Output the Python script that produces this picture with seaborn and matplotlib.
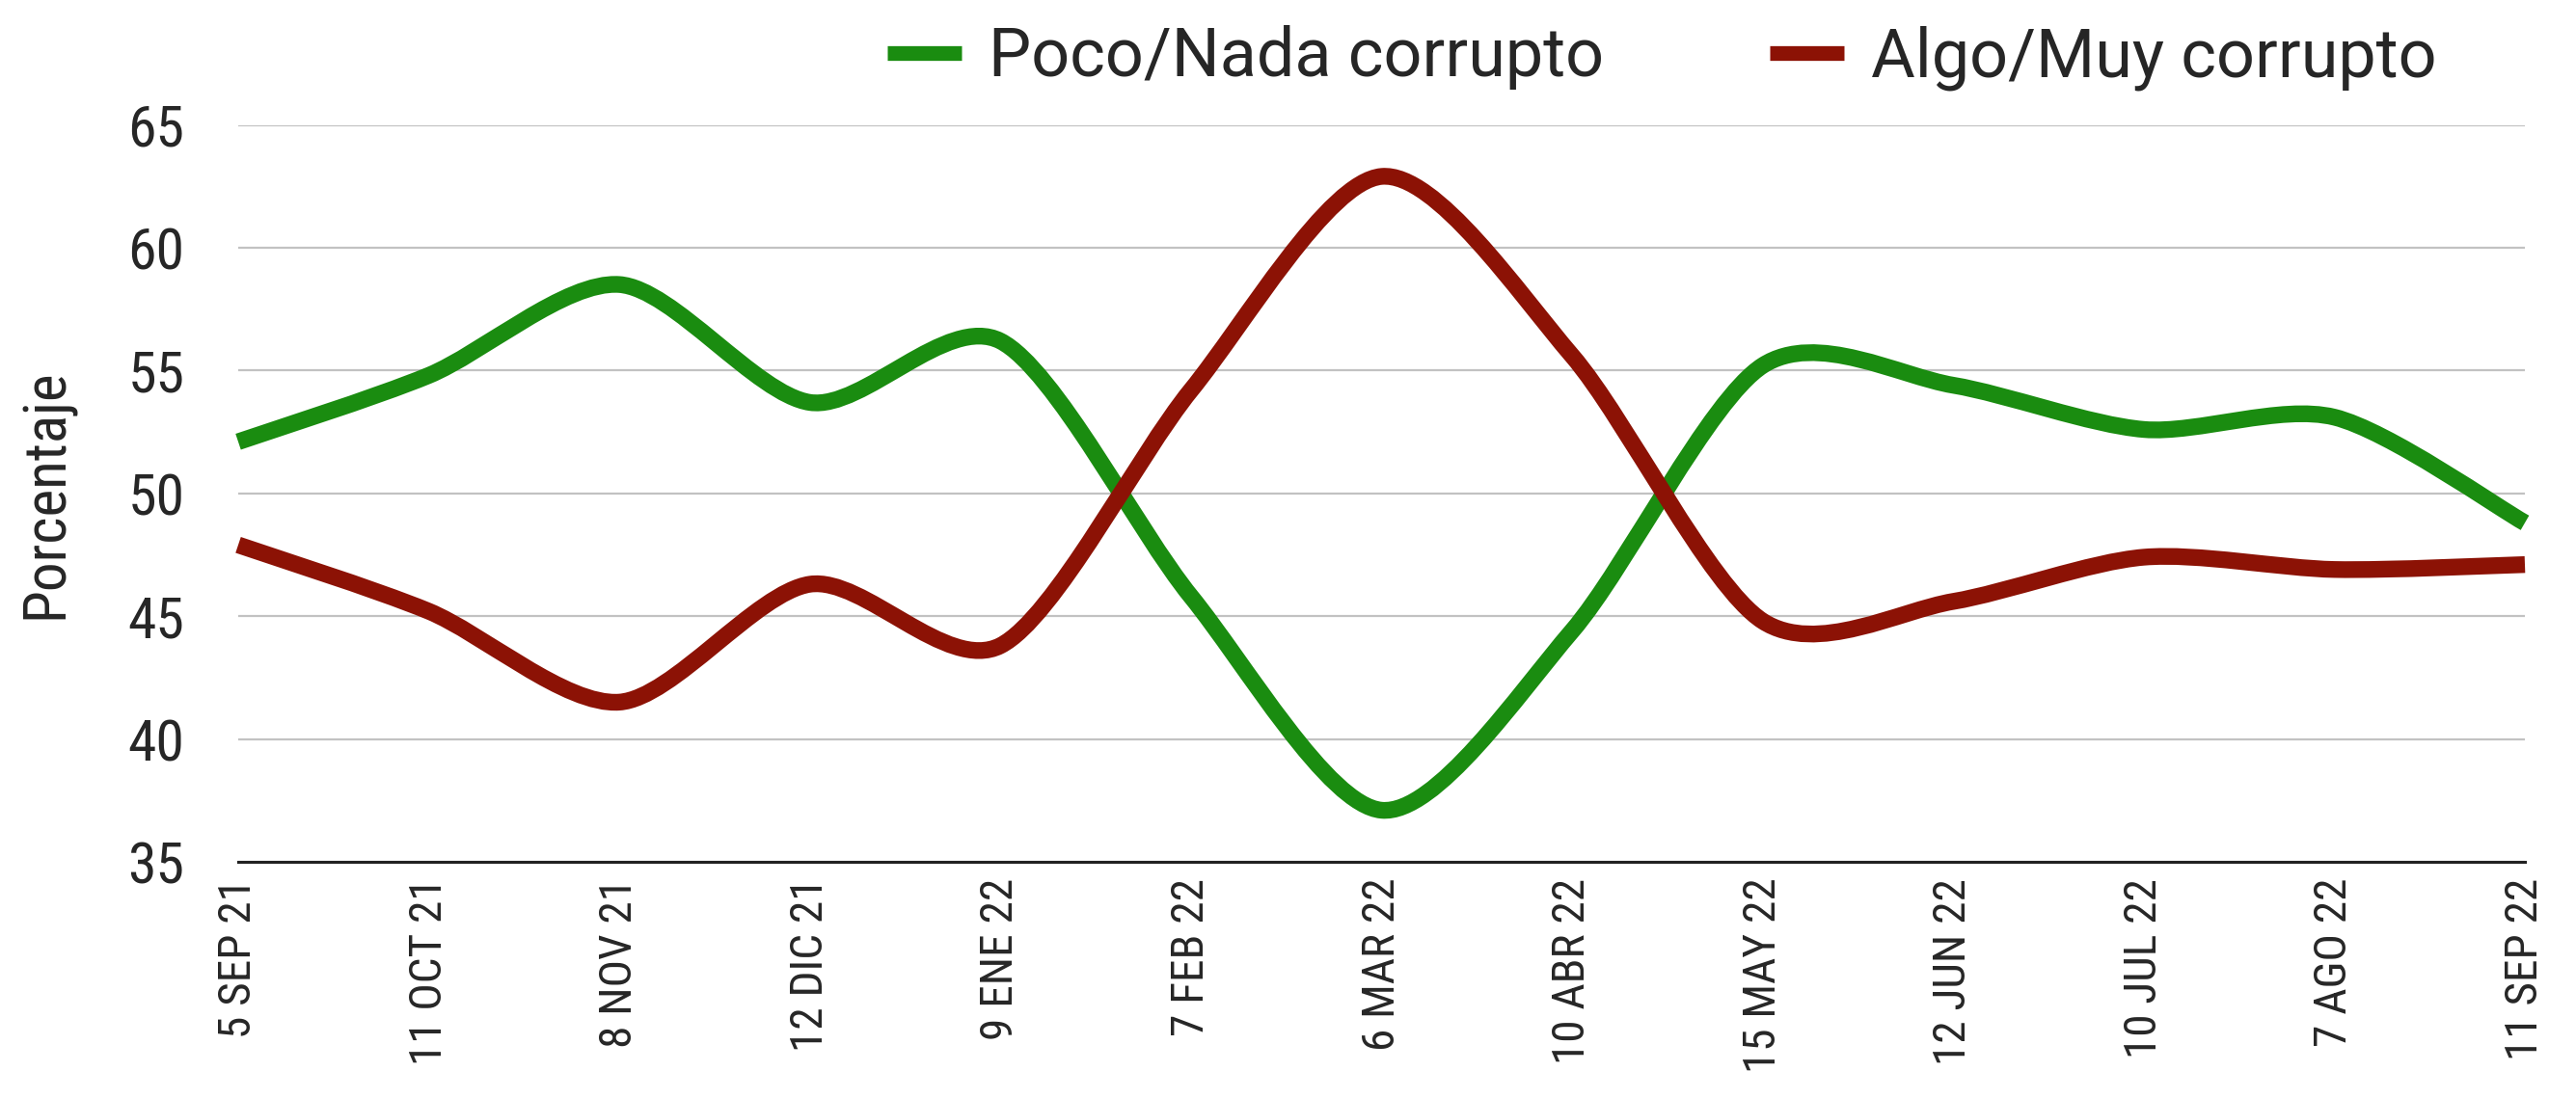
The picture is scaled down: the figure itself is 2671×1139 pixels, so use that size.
import numpy as np
import pandas as pd
import matplotlib
matplotlib.use("Agg")
import matplotlib.pyplot as plt
from matplotlib.path import Path
from matplotlib.patches import PathPatch
from matplotlib.lines import Line2D
import seaborn as sns

fechas = ["5 SEP 21", "11 OCT 21", "8 NOV 21", "12 DIC 21", "9 ENE 22", "7 FEB 22",
          "6 MAR 22", "10 ABR 22", "15 MAY 22", "12 JUN 22", "10 JUL 22", "7 AGO 22",
          "11 SEP 22"]
poco_nada = [52.1, 54.8, 58.5, 53.7, 56.2, 45.8, 37.1, 44.4, 55.2, 54.4, 52.6, 53.1, 48.8]
algo_muy = [47.9, 45.2, 41.5, 46.3, 43.8, 54.2, 62.9, 55.6, 44.8, 45.6, 47.4, 46.9, 47.1]
series = ["Poco/Nada corrupto", "Algo/Muy corrupto"]
colores = ["#1a8c10", "#8c1205"]
y_ticks = [35, 40, 45, 50, 55, 60, 65]

sns.set_theme(style="white")
cond = ["Roboto Condensed", "Liberation Sans Narrow", "Roboto", "DejaVu Sans"]
plt.rcParams["font.family"] = cond

df = pd.DataFrame({
    "pos": list(range(len(fechas))) * 2,
    "valor": poco_nada + algo_muy,
    "serie": [series[0]] * len(fechas) + [series[1]] * len(fechas),
})

W, H, DPI = 2671, 1139, 100
fig = plt.figure(figsize=(W / DPI, H / DPI), dpi=DPI)
ax = fig.add_axes([247 / W, 1 - 894 / H, (2618 - 247) / W, (894 - 129.5) / H])

sns.lineplot(data=df, x="pos", y="valor", hue="serie", palette=colores,
             hue_order=series, linewidth=12.5, legend=False, ax=ax)


def smooth_path(x, y, k=0.85):
    """Catmull-Rom style cubic Bezier path through the points."""
    x = np.asarray(x, float)
    y = np.asarray(y, float)
    n = len(x)
    verts = [(x[0], y[0])]
    codes = [Path.MOVETO]
    for i in range(n - 1):
        p0 = np.array([x[max(i - 1, 0)], y[max(i - 1, 0)]])
        p1 = np.array([x[i], y[i]])
        p2 = np.array([x[i + 1], y[i + 1]])
        p3 = np.array([x[min(i + 2, n - 1)], y[min(i + 2, n - 1)]])
        c1 = p1 + k * (p2 - p0) / 6.0
        c2 = p2 - k * (p3 - p1) / 6.0
        verts += [tuple(c1), tuple(c2), tuple(p2)]
        codes += [Path.CURVE4] * 3
    return Path(verts, codes)


# replace the straight segments with smooth curves through the same data
for line in list(ax.lines):
    xd, yd = line.get_xdata(), line.get_ydata()
    patch = PathPatch(smooth_path(xd, yd), facecolor="none", edgecolor=line.get_color(),
                      linewidth=line.get_linewidth(), capstyle="butt", joinstyle="round",
                      clip_on=False, zorder=3)
    ax.add_patch(patch)
    line.set_visible(False)

ax.set_xlim(0, len(fechas) - 1)
ax.set_ylim(35, 65)
ax.set_xticks(range(len(fechas)))
ax.set_xticklabels(fechas, rotation=90, fontsize=34, family=cond)
ax.set_yticks(y_ticks)
ax.set_yticklabels([str(v) for v in y_ticks], fontsize=43, family=cond)
ax.tick_params(axis="x", length=0, pad=12)
ax.tick_params(axis="y", length=0, pad=40)

ax.yaxis.grid(True, color="#c2c2c2", linewidth=1.6)
ax.xaxis.grid(False)
for s in ["top", "right", "left"]:
    ax.spines[s].set_visible(False)
ax.spines["bottom"].set_color("#222222")
ax.spines["bottom"].set_linewidth(2.2)
ax.set_axisbelow(True)

ax.set_xlabel("")
ax.set_ylabel("Porcentaje", fontsize=44, family=cond)
ax.yaxis.set_label_coords(-0.0717, 0.5)

handles = [Line2D([0], [0], color=c, linewidth=11, solid_capstyle="butt") for c in colores]
ax.legend(handles, series, ncol=2, loc="center left",
          bbox_to_anchor=(920 / W, 1 - 60 / H), bbox_transform=fig.transFigure,
          frameon=False, borderpad=0, borderaxespad=0, handlelength=1.1,
          handletextpad=0.4, columnspacing=2.45,
          prop={"family": ["Roboto", "DejaVu Sans"], "size": 50.5})

fig.savefig("out.png", dpi=DPI, facecolor="white")
